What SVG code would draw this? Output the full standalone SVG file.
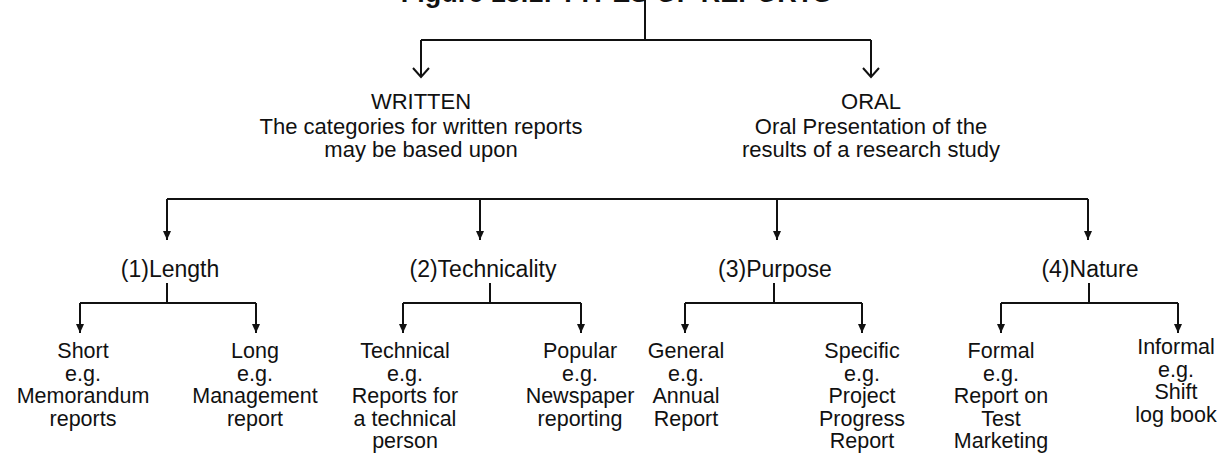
<svg xmlns="http://www.w3.org/2000/svg" width="1219" height="455" viewBox="0 0 1219 455">
<defs>
<style>
.t{font-family:"Liberation Sans",Arial,sans-serif;font-size:21.5px;fill:#111;text-anchor:middle}
.h{font-family:"Liberation Sans",Arial,sans-serif;font-size:22px;fill:#111;text-anchor:middle}
.c{font-family:"Liberation Sans",Arial,sans-serif;font-size:23px;fill:#111;text-anchor:middle}
.title{font-family:"Liberation Sans",Arial,sans-serif;font-size:27px;font-weight:bold;fill:#111;text-anchor:middle}
.ln{stroke:#111;stroke-width:2;fill:none}
</style>
<marker id="open" markerWidth="18" markerHeight="14" refX="9" refY="11" orient="0" markerUnits="userSpaceOnUse" viewBox="0 0 18 14">
<path d="M1,2 L9,11 L17,2" stroke="#111" stroke-width="2" fill="none"/>
</marker>
<marker id="solid" markerWidth="10" markerHeight="10" refX="5" refY="9" orient="0" markerUnits="userSpaceOnUse" viewBox="0 0 10 10">
<path d="M1,0 L9,0 L5,9 Z" fill="#111"/>
</marker>
</defs>
<rect width="1219" height="455" fill="#fff"/>
<g id="title"><text class="title" x="616" y="2">Figure 15.1: TYPES OF REPORTS</text></g>
<g id="connectors">
<path class="ln" d="M645,0 V40 M421,40 H871"/>
<path class="ln" d="M421,40 V77" marker-end="url(#open)"/>
<path class="ln" d="M871,40 V77" marker-end="url(#open)"/>
<path class="ln" d="M167,199 H1088"/>
<path class="ln" d="M167,199 V240" marker-end="url(#solid)"/>
<path class="ln" d="M480,199 V240" marker-end="url(#solid)"/>
<path class="ln" d="M777,199 V240" marker-end="url(#solid)"/>
<path class="ln" d="M1088,199 V240" marker-end="url(#solid)"/>
<path class="ln" d="M167,283 V303 M80,303 H256"/>
<path class="ln" d="M80,303 V333" marker-end="url(#solid)"/>
<path class="ln" d="M256,303 V333" marker-end="url(#solid)"/>
<path class="ln" d="M490,283 V303 M403,303 H581"/>
<path class="ln" d="M403,303 V333" marker-end="url(#solid)"/>
<path class="ln" d="M581,303 V333" marker-end="url(#solid)"/>
<path class="ln" d="M774,283 V303 M685,303 H862"/>
<path class="ln" d="M685,303 V333" marker-end="url(#solid)"/>
<path class="ln" d="M862,303 V333" marker-end="url(#solid)"/>
<path class="ln" d="M1089,283 V303 M1001,303 H1178"/>
<path class="ln" d="M1001,303 V333" marker-end="url(#solid)"/>
<path class="ln" d="M1178,303 V333" marker-end="url(#solid)"/>
</g>
<g id="written"><text class="h" x="421" y="109">WRITTEN</text><text class="h" x="421" y="134">The categories for written reports</text><text class="h" x="421" y="157">may be based upon</text></g>
<g id="oral"><text class="h" x="871" y="109">ORAL</text><text class="h" x="871" y="134">Oral Presentation of the</text><text class="h" x="871" y="157">results of a research study</text></g>
<g id="length"><text class="c" x="170" y="277">(1)Length</text></g>
<g id="technicality"><text class="c" x="483" y="277">(2)Technicality</text></g>
<g id="purpose"><text class="c" x="775" y="277">(3)Purpose</text></g>
<g id="nature"><text class="c" x="1090" y="277">(4)Nature</text></g>
<g id="short"><text class="t" x="83" y="358">Short</text><text class="t" x="83" y="380.5">e.g.</text><text class="t" x="83" y="403">Memorandum</text><text class="t" x="83" y="425.5">reports</text></g>
<g id="long"><text class="t" x="255" y="358">Long</text><text class="t" x="255" y="380.5">e.g.</text><text class="t" x="255" y="403">Management</text><text class="t" x="255" y="425.5">report</text></g>
<g id="technical"><text class="t" x="405" y="358">Technical</text><text class="t" x="405" y="380.5">e.g.</text><text class="t" x="405" y="403">Reports for</text><text class="t" x="405" y="425.5">a technical</text><text class="t" x="405" y="448">person</text></g>
<g id="popular"><text class="t" x="580" y="358">Popular</text><text class="t" x="580" y="380.5">e.g.</text><text class="t" x="580" y="403">Newspaper</text><text class="t" x="580" y="425.5">reporting</text></g>
<g id="general"><text class="t" x="686" y="358">General</text><text class="t" x="686" y="380.5">e.g.</text><text class="t" x="686" y="403">Annual</text><text class="t" x="686" y="425.5">Report</text></g>
<g id="specific"><text class="t" x="862" y="358">Specific</text><text class="t" x="862" y="380.5">e.g.</text><text class="t" x="862" y="403">Project</text><text class="t" x="862" y="425.5">Progress</text><text class="t" x="862" y="448">Report</text></g>
<g id="formal"><text class="t" x="1001" y="358">Formal</text><text class="t" x="1001" y="380.5">e.g.</text><text class="t" x="1001" y="403">Report on</text><text class="t" x="1001" y="425.5">Test</text><text class="t" x="1001" y="448">Marketing</text></g>
<g id="informal"><text class="t" x="1176" y="354">Informal</text><text class="t" x="1176" y="376.5">e.g.</text><text class="t" x="1176" y="399">Shift</text><text class="t" x="1176" y="421.5">log book</text></g>
</svg>
